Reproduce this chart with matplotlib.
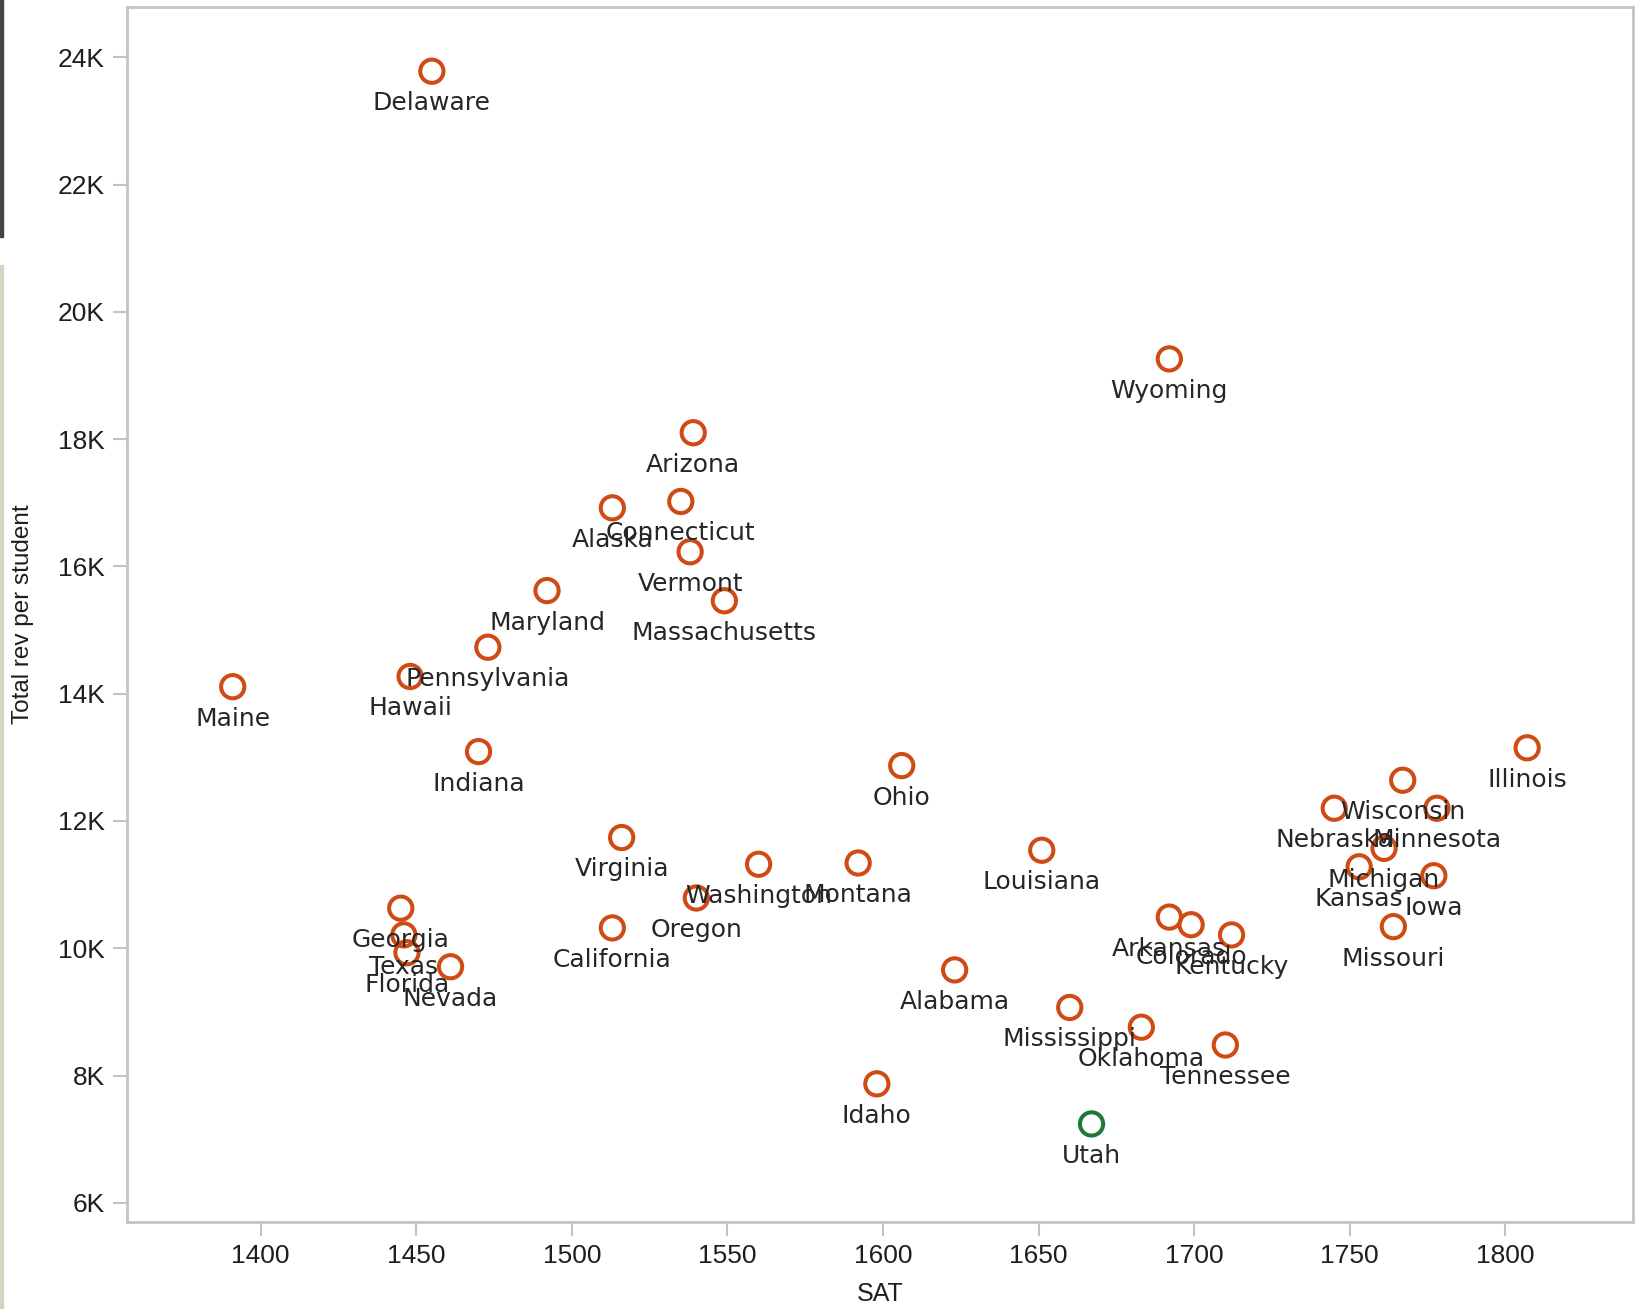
import matplotlib
matplotlib.use("Agg")
import matplotlib.pyplot as plt
from matplotlib.patches import Rectangle
from matplotlib.ticker import FuncFormatter

# SAT score vs total revenue per student, by state
states = ["Delaware", "Wyoming", "Arizona", "Alaska", "Connecticut", "Vermont",
          "Maryland", "Massachusetts", "Pennsylvania", "Hawaii", "Maine", "Indiana",
          "Ohio", "Illinois", "Wisconsin", "Nebraska", "Minnesota", "Michigan",
          "Kansas", "Iowa", "Missouri", "Virginia", "Washington", "Oregon",
          "Montana", "Louisiana", "California", "Georgia", "Texas", "Florida",
          "Nevada", "Arkansas", "Colorado", "Kentucky", "Oklahoma", "Mississippi",
          "Tennessee", "Alabama", "Idaho", "Utah"]
sat = [1455, 1692, 1539, 1513, 1535, 1538,
       1492, 1549, 1473, 1448, 1391, 1470,
       1606, 1807, 1767, 1745, 1778, 1761,
       1753, 1777, 1764, 1516, 1560, 1540,
       1592, 1651, 1513, 1445, 1446, 1447,
       1461, 1692, 1699, 1712, 1683, 1660,
       1710, 1623, 1598, 1667]
rev = [23780, 19260, 18100, 16920, 17020, 16230,
       15620, 15460, 14730, 14270, 14110, 13090,
       12870, 13150, 12640, 12200, 12200, 11570,
       11280, 11140, 10340, 11740, 11320, 10790,
       11340, 11540, 10320, 10630, 10210, 9930,
       9710, 10490, 10370, 10210, 8760, 9070,
       8480, 9660, 7870, 7240]
highlight = "Utah"

orange = "#cf4b16"
green = "#1f7a3a"
grey = "#c3c3c3"

fig = plt.figure(figsize=(16.42, 13.09), dpi=100)
ax = fig.add_axes([0.0773, 0.0665, 0.9172, 0.9282])

colors = [green if s == highlight else orange for s in states]
ax.scatter(sat, rev, s=280, facecolors="none", edgecolors=colors,
           linewidths=2.9, zorder=3)

for name, x, y in zip(states, sat, rev):
    ax.annotate(name, (x, y), xytext=(0, -23), textcoords="offset points",
                ha="center", va="center", fontsize=18, color="#262626",
                family="DejaVu Sans", zorder=4)

ax.set_xlim(1357, 1841)
ax.set_ylim(5700, 24790)
ax.set_xticks(range(1400, 1801, 50))
ax.set_yticks(range(6000, 24001, 2000))
ax.yaxis.set_major_formatter(FuncFormatter(lambda v, p: "%dK" % (v / 1000)))

for side in ["left", "bottom", "right", "top"]:
    ax.spines[side].set_color(grey)
    ax.spines[side].set_linewidth(2)
ax.tick_params(direction="out", length=10, width=1.5, color=grey,
               labelsize=19, labelcolor="#1e1e1e", pad=6)
for lbl in ax.get_xticklabels() + ax.get_yticklabels():
    lbl.set_family("Liberation Sans")

ax.set_xlabel("SAT", fontsize=18, family="Liberation Sans", color="#1e1e1e", va="center")
ax.set_ylabel("Total rev per student", fontsize=17.5, family="Liberation Sans",
              color="#1e1e1e", va="center")
ax.xaxis.set_label_coords(0.5, -0.059)
ax.yaxis.set_label_coords(-0.069, 0.5)

# thin strips along the left edge
fig.patches.append(Rectangle((0, 1 - 237 / 1309), 3 / 1642, 237 / 1309,
                             transform=fig.transFigure, color="#4a4242", zorder=0))
fig.patches.append(Rectangle((0, 0), 3 / 1642, 1 - 265 / 1309,
                             transform=fig.transFigure, color="#d3d5c3", zorder=0))

fig.savefig("out.png", dpi=100)
